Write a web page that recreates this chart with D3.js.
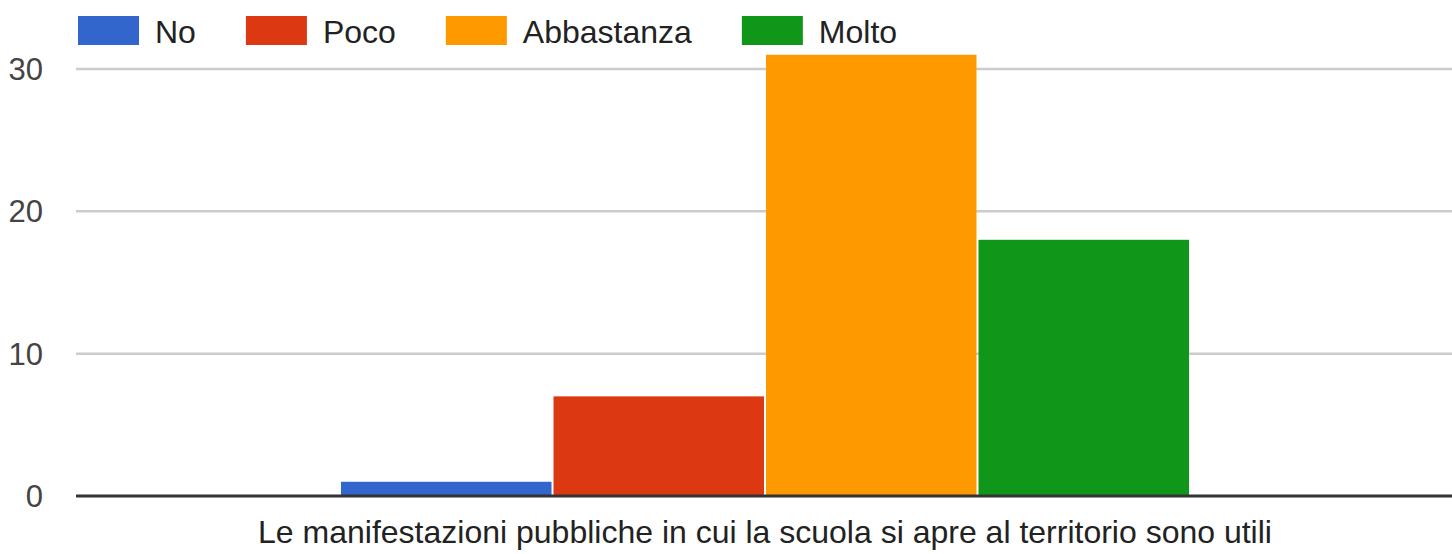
<!DOCTYPE html>
<html>
<head>
<meta charset="utf-8">
<script src="https://cdn.jsdelivr.net/npm/d3@7"></script>
<style>
  body { margin: 0; background: #fff; }
  text { font-family: "Liberation Sans", Arial, sans-serif; }
</style>
</head>
<body>
<div id="chart"></div>
<script>
var categories = ["Le manifestazioni pubbliche in cui la scuola si apre al territorio sono utili"];
var seriesNames = ["No", "Poco", "Abbastanza", "Molto"];
var seriesValues = [1, 7, 31, 18];
var colors = ["#3366cc", "#dc3912", "#ff9900", "#109618"];
var yTicks = [0, 10, 20, 30];

var width = 1452, height = 554;
var left = 76, right = 1452, top0 = 69, bottom = 496;

var svg = d3.select("#chart").append("svg")
    .attr("width", width)
    .attr("height", height);

// y: 30 sits on the top gridline
var y = d3.scaleLinear()
    .domain([0, 30])
    .range([bottom, top0]);

var x0 = d3.scaleBand()
    .domain(categories)
    .range([left, right + 2])
    .paddingInner(0)
    .paddingOuter(0.3106);

var x1 = d3.scaleBand()
    .domain(seriesNames)
    .range([0, x0.bandwidth()]);

// gridlines
svg.append("g").selectAll("line")
    .data(yTicks.filter(function (d) { return d > 0; }))
    .enter().append("line")
    .attr("x1", left)
    .attr("x2", right)
    .attr("y1", function (d) { return y(d); })
    .attr("y2", function (d) { return y(d); })
    .attr("stroke", "#cccccc")
    .attr("stroke-width", 2.5);

// y labels
svg.append("g").selectAll("text")
    .data(yTicks)
    .enter().append("text")
    .attr("x", 43)
    .attr("y", function (d) { return y(d); })
    .attr("dy", "0.35em")
    .attr("text-anchor", "end")
    .attr("fill", "#444444")
    .style("font-size", "31px")
    .text(function (d) { return d; });

// bars
var rows = seriesNames.map(function (s, i) {
    return { cat: categories[0], name: s, value: seriesValues[i], color: colors[i] };
});

svg.append("g").selectAll("rect")
    .data(rows)
    .enter().append("rect")
    .attr("x", function (d) { return x0(d.cat) + x1(d.name) + 1; })
    .attr("width", x1.bandwidth() - 2)
    .attr("y", function (d) { return y(d.value); })
    .attr("height", function (d) { return y(0) - y(d.value); })
    .attr("fill", function (d) { return d.color; });

// baseline
svg.append("line")
    .attr("x1", left)
    .attr("x2", right)
    .attr("y1", y(0))
    .attr("y2", y(0))
    .attr("stroke", "#333333")
    .attr("stroke-width", 3);

// x axis title
svg.append("text")
    .attr("x", x0(categories[0]) + x0.bandwidth() / 2)
    .attr("y", 543)
    .attr("text-anchor", "middle")
    .attr("fill", "#222222")
    .style("font-size", "32px")
    .text(categories[0]);

// legend
var legend = svg.append("g");
var lx = 78;
seriesNames.forEach(function (s, i) {
    legend.append("rect")
        .attr("x", lx)
        .attr("y", 16)
        .attr("width", 61)
        .attr("height", 29)
        .attr("fill", colors[i]);
    var t = legend.append("text")
        .attr("x", lx + 77)
        .attr("y", 42.5)
        .attr("fill", "#222222")
        .style("font-size", "32px")
        .text(s);
    lx += 77 + t.node().getComputedTextLength() + 50;
});
</script>
</body>
</html>
